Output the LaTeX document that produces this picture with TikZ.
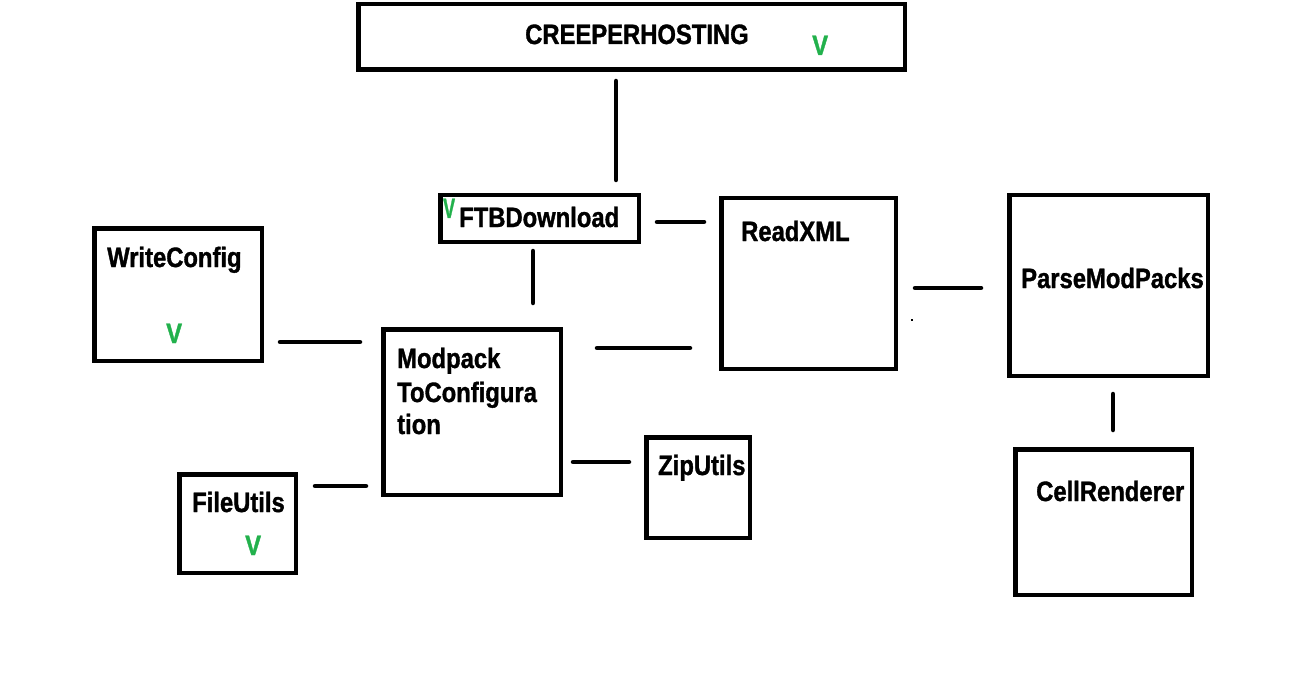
\documentclass[tikz,border=0pt]{standalone}
\usepackage{fontspec}
\newfontfamily\lblfont{Liberation Sans Bold}[FakeStretch=0.85, FakeBold=1.2]
\definecolor{paintgreen}{HTML}{22B14C}
\tikzset{
  boxnode/.style={draw=black, line width=4.5pt, rectangle, inner sep=0pt, fill=white},
  lbl/.style={anchor=base west, inner sep=0pt, font=\lblfont\fontsize{28}{33}\selectfont, text=black},
  tick/.style={anchor=base west, inner sep=0pt, font=\lblfont\fontsize{28}{33}\selectfont, text=paintgreen},
  conn/.style={draw=black, line width=4.5pt, line cap=round}
}
% box from outer corners (x1,y1) to (x2,y2)
\newcommand{\mybox}[5]{%
  \node[boxnode, minimum width={#4-#2-4.5pt}, minimum height={#5-#3-4.5pt}] (#1) at ({(#2+#4)/2},{(#3+#5)/2}) {};}
\begin{document}
\begin{tikzpicture}[x=1pt,y=-1pt]
\useasboundingbox[fill=white] (0,0) rectangle (1290,687);

% boxes
\mybox{creeper}{356}{2}{907}{72}
\mybox{ftb}{438}{193}{641}{244}
\mybox{readxml}{719}{196}{898}{371}
\mybox{parse}{1007}{193}{1210}{378}
\mybox{cell}{1013}{447}{1194}{597}
\mybox{write}{92}{226}{264}{363}
\mybox{modpack}{381}{327}{563}{497}
\mybox{zip}{644}{435}{752}{540}
\mybox{file}{177}{472}{298}{575}

% labels
\node[lbl] (tcreeper) at (525,44) {CREEPERHOSTING};
\node[lbl] (tftb) at (459,227) {FTBDownload};
\node[lbl] (treadxml) at (741,241) {ReadXML};
\node[lbl] (tparse) at (1021,288) {ParseModPacks};
\node[lbl] (tcell) at (1036,501) {CellRenderer};
\node[lbl] (twrite) at (107,267) {WriteConfig};
\node[lbl] (tmodA) at (397,368) {Modpack};
\node[lbl] (tmodB) at (397,402) {ToConfigura};
\node[lbl] (tmodC) at (397,434) {tion};
\node[lbl] (tzip) at (658,475) {ZipUtils};
\node[lbl] (tfile) at (192,512) {FileUtils};

% green checks
\node[tick] (vcreeper) at (812,55) {V};
\node[tick, xscale=0.75] (vftb) at (443,218) {V};
\node[tick] (vwrite) at (166,343) {V};
\node[tick] (vfile) at (245,555) {V};

% connector end points
\coordinate (a1) at (616,81);   \coordinate (a2) at (616,180);
\coordinate (b1) at (657,222);  \coordinate (b2) at (704,222);
\coordinate (c1) at (533,251);  \coordinate (c2) at (533,303);
\coordinate (d1) at (280,342);  \coordinate (d2) at (360,342);
\coordinate (e1) at (597,348);  \coordinate (e2) at (690,348);
\coordinate (f1) at (573,462);  \coordinate (f2) at (629,462);
\coordinate (g1) at (315,486);  \coordinate (g2) at (366,486);
\coordinate (h1) at (915,288);  \coordinate (h2) at (981,288);
\coordinate (i1) at (1113,394); \coordinate (i2) at (1113,430);
\coordinate (dot) at (912,320);

\draw[conn] (a1) -- (a2);
\draw[conn] (b1) -- (b2);
\draw[conn] (c1) -- (c2);
\draw[conn] (d1) -- (d2);
\draw[conn] (e1) -- (e2);
\draw[conn] (f1) -- (f2);
\draw[conn] (g1) -- (g2);
\draw[conn] (h1) -- (h2);
\draw[conn] (i1) -- (i2);
\fill[black] ([shift={(-0.8,-0.8)}]dot) rectangle ([shift={(0.8,0.8)}]dot);
\end{tikzpicture}
\end{document}
